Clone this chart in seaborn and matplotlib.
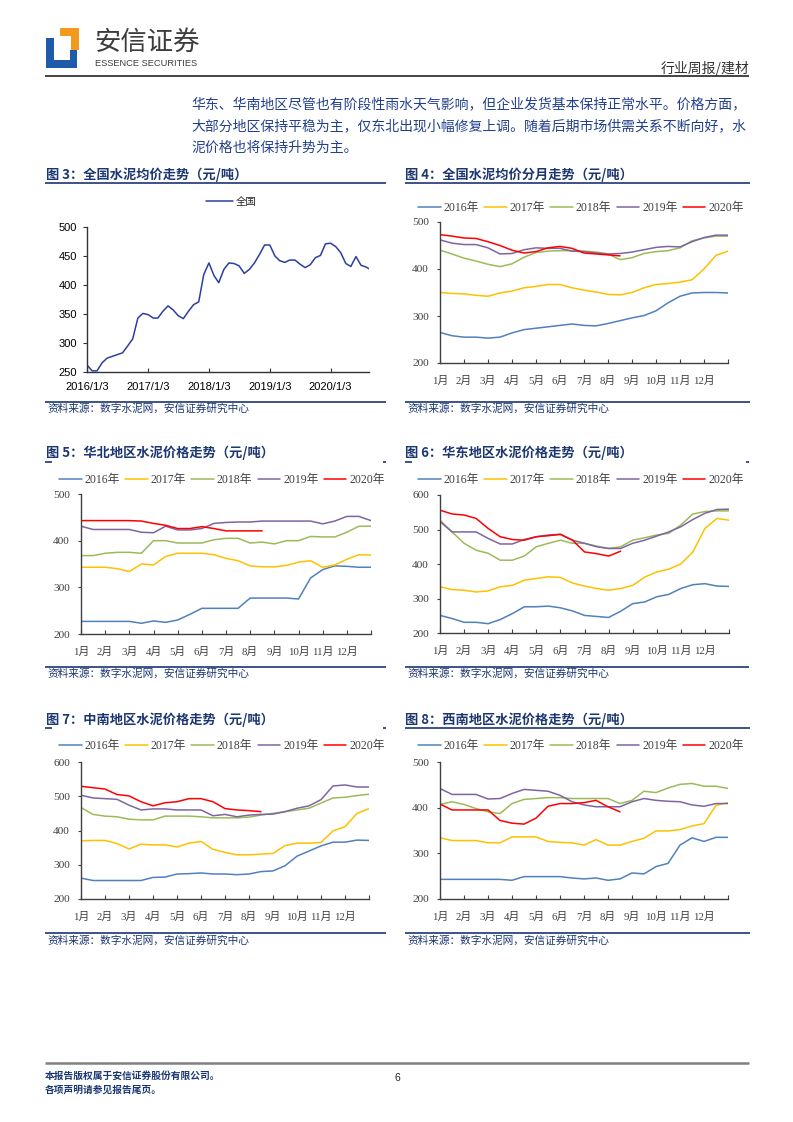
import numpy as np
import pandas as pd
import matplotlib
matplotlib.use("Agg")
import matplotlib.pyplot as plt
import seaborn as sns
from matplotlib.lines import Line2D
from matplotlib.patches import Polygon
from matplotlib.font_manager import FontProperties

sns.set_theme(style="white")
plt.rcParams["font.family"] = ["Noto Sans CJK SC", "DejaVu Sans"]
plt.rcParams["axes.unicode_minus"] = False

# ---------------- data ----------------
national_price = [262, 252, 252, 266, 274, 277, 280, 283, 295, 307, 343, 351,
                  349, 343, 343, 355, 364, 357, 347, 342, 355, 366, 371, 418,
                  438, 416, 404, 427, 438, 437, 433, 420, 427, 438, 453, 469,
                  469, 450, 442, 439, 443, 443, 436, 430, 435, 447, 451, 471,
                  472, 466, 456, 437, 432, 449, 434, 431, 428]
national_ticks = ["2016/1/3", "2017/1/3", "2018/1/3", "2019/1/3", "2020/1/3"]
national_yticks = [250, 300, 350, 400, 450, 500]

years = ["2016年", "2017年", "2018年", "2019年", "2020年"]
month_labels = ["1月", "2月", "3月", "4月", "5月", "6月", "7月", "8月", "9月",
                "10月", "11月", "12月", ""]

# 图4 全国分月
nat_2016 = [265, 258, 255, 255, 253, 255, 264, 271, 274, 277, 280, 283, 280, 279, 284, 290, 296, 301, 311, 328, 342, 349, 350, 350, 349]
nat_2017 = [350, 348, 347, 344, 342, 349, 353, 360, 363, 367, 367, 360, 355, 351, 346, 345, 350, 360, 367, 369, 372, 377, 400, 429, 438]
nat_2018 = [440, 432, 423, 417, 410, 405, 411, 425, 435, 438, 439, 439, 438, 436, 432, 420, 424, 433, 437, 439, 445, 460, 466, 470, 470]
nat_2019 = [462, 455, 452, 452, 445, 432, 433, 441, 445, 444, 444, 438, 437, 434, 432, 433, 436, 441, 446, 448, 447, 458, 467, 472, 472]
nat_2020 = [473, 470, 466, 465, 458, 450, 440, 434, 437, 445, 448, 444, 434, 432, 430, 428]

# 图5 华北
hb_2016 = [227, 227, 227, 227, 227, 223, 228, 225, 230, 242, 255, 255, 255, 255, 277, 277, 277, 277, 275, 320, 338, 346, 345, 343, 343]
hb_2017 = [343, 343, 343, 340, 334, 350, 348, 366, 373, 373, 373, 370, 362, 357, 346, 344, 344, 347, 354, 357, 343, 348, 360, 370, 369]
hb_2018 = [368, 368, 373, 375, 375, 373, 400, 400, 395, 395, 395, 402, 405, 405, 395, 397, 393, 400, 400, 409, 408, 408, 418, 431, 431]
hb_2019 = [431, 424, 424, 424, 424, 418, 417, 431, 423, 423, 426, 437, 439, 440, 440, 442, 442, 442, 442, 442, 436, 442, 452, 452, 443]
hb_2020 = [443, 443, 443, 443, 443, 442, 437, 433, 426, 426, 430, 426, 421, 421, 421, 421]

# 图6 华东
hd_2016 = [251, 242, 231, 231, 227, 239, 256, 276, 276, 278, 273, 264, 251, 248, 245, 263, 285, 290, 305, 312, 329, 340, 343, 336, 335]
hd_2017 = [334, 326, 324, 319, 322, 334, 338, 353, 358, 363, 361, 345, 336, 329, 324, 329, 338, 362, 377, 385, 400, 435, 503, 532, 527]
hd_2018 = [527, 493, 460, 440, 431, 411, 411, 423, 450, 460, 469, 460, 460, 452, 445, 450, 469, 476, 484, 489, 513, 545, 552, 554, 554]
hd_2019 = [523, 493, 493, 493, 474, 458, 458, 471, 479, 484, 486, 469, 460, 450, 445, 445, 460, 469, 481, 493, 508, 529, 547, 558, 559]
hd_2020 = [556, 545, 542, 532, 503, 479, 471, 469, 479, 482, 486, 469, 435, 430, 423, 437]

# 图7 中南
zn_2016 = [261, 254, 254, 254, 254, 254, 263, 264, 273, 274, 276, 273, 273, 271, 273, 280, 282, 297, 325, 340, 355, 366, 366, 372, 371]
zn_2017 = [370, 371, 371, 362, 346, 360, 358, 358, 352, 363, 368, 345, 336, 329, 329, 331, 333, 356, 363, 363, 365, 399, 411, 450, 464]
zn_2018 = [467, 447, 442, 440, 433, 431, 431, 442, 442, 442, 440, 437, 437, 437, 439, 445, 450, 455, 460, 465, 480, 495, 497, 502, 506]
zn_2019 = [503, 495, 493, 491, 474, 460, 463, 463, 460, 460, 460, 443, 447, 440, 445, 447, 448, 455, 465, 472, 490, 530, 533, 527, 527]
zn_2020 = [529, 525, 521, 505, 501, 484, 472, 481, 484, 493, 493, 484, 464, 460, 458, 455]

# 图8 西南
xn_2016 = [243, 243, 243, 243, 243, 243, 241, 249, 249, 249, 249, 246, 244, 246, 241, 244, 257, 255, 271, 278, 318, 334, 326, 335, 335]
xn_2017 = [334, 328, 328, 328, 323, 323, 336, 336, 336, 326, 324, 323, 318, 330, 318, 318, 326, 333, 349, 349, 352, 360, 365, 405, 411]
xn_2018 = [407, 413, 407, 398, 391, 387, 409, 418, 420, 422, 422, 420, 420, 420, 420, 409, 416, 436, 433, 443, 451, 453, 447, 447, 442]
xn_2019 = [442, 429, 429, 429, 419, 420, 431, 440, 438, 436, 427, 413, 406, 402, 402, 402, 413, 420, 416, 414, 413, 406, 403, 409, 409]
xn_2020 = [408, 395, 395, 395, 395, 372, 366, 364, 377, 403, 409, 409, 411, 416, 402, 391]

# ---------------- styling ----------------
W, H = 793, 1122
NAVY = "#1B3670"
BODY = "#22408C"
YEAR_COLORS = ["#4F81BD", "#FFC000", "#9BBB59", "#8064A2", "#FF0000"]
SERIF = ["Liberation Serif", "Noto Sans CJK SC"]
AXC = "#404040"

fig = plt.figure(figsize=(W / 100, H / 100), dpi=100)


def fx(x):
    return x / W


def fy(y):
    return 1 - y / H


def hline(x0, x1, y, color, lw):
    fig.add_artist(Line2D([fx(x0), fx(x1)], [fy(y), fy(y)], transform=fig.transFigure,
                          color=color, lw=lw, solid_capstyle="butt"))


def txt(x, y, s, **kw):
    kw.setdefault("va", "center")
    fig.text(fx(x), fy(y), s, **kw)


def axes_px(l, t, r, b):
    return fig.add_axes([fx(l), fy(b), (r - l) / W, (b - t) / H])


def monthly_chart(box, series, ylim, yticks, legend_xy):
    ax = axes_px(*box)
    frames = []
    for yr, vals in zip(years, series):
        frames.append(pd.DataFrame({"月份": np.arange(len(vals)) * 0.5, "价格": vals, "年份": yr}))
    df = pd.concat(frames, ignore_index=True)
    sns.lineplot(data=df, x="月份", y="价格", hue="年份", hue_order=years,
                 palette=YEAR_COLORS, linewidth=1.1, ax=ax, legend=False,
                 estimator=None, sort=False)
    ax.set_xlim(0, 12)
    ax.set_ylim(*ylim)
    ax.set_xticks(range(13))
    ax.set_xticklabels(month_labels)
    ax.set_yticks(yticks)
    ax.set_xlabel("")
    ax.set_ylabel("")
    for s in ["top", "right"]:
        ax.spines[s].set_visible(False)
    for s in ["left", "bottom"]:
        ax.spines[s].set_color(AXC)
        ax.spines[s].set_linewidth(1.0)
    ax.tick_params(axis="x", direction="in", length=3, width=0.8, color=AXC, pad=9,
                   labelsize=7.8, labelcolor=AXC, bottom=True)
    ax.tick_params(axis="y", direction="out", length=2, width=0.8, color=AXC, pad=6,
                   labelsize=8.2, labelcolor=AXC, left=True)
    for lab in ax.get_xticklabels() + ax.get_yticklabels():
        lab.set_fontfamily(SERIF)
    handles = [Line2D([], [], color=c, lw=1.1) for c in YEAR_COLORS]
    ax.legend(handles, years, ncol=5, loc="center",
              bbox_to_anchor=(fx(legend_xy[0]), fy(legend_xy[1])),
              bbox_transform=fig.transFigure, frameon=False,
              prop=FontProperties(family=SERIF, size=8.5), handlelength=1.9,
              handletextpad=0.25, columnspacing=0.45, labelcolor=AXC,
              borderaxespad=0, borderpad=0)
    return ax


# ---------------- header ----------------
fig.add_artist(Polygon([(fx(46), fy(38)), (fx(54), fy(38)), (fx(54), fy(60)), (fx(70), fy(60)),
                        (fx(70), fy(50)), (fx(77), fy(50)), (fx(77), fy(68)), (fx(46), fy(68))],
                       closed=True, transform=fig.transFigure, color="#1F5BA8", lw=0))
fig.add_artist(Polygon([(fx(60), fy(28)), (fx(79), fy(28)), (fx(79), fy(50)), (fx(71), fy(50)),
                        (fx(71), fy(36)), (fx(60), fy(36))],
                       closed=True, transform=fig.transFigure, color="#F39A1E", lw=0))
txt(94, 42, "安信证券", fontsize=19, color="#3C3C3C")
txt(95, 64, "ESSENCE SECURITIES", fontsize=6.7, color="#3C3C3C",
    family=["Liberation Sans Narrow", "Liberation Sans", "DejaVu Sans"])
txt(749, 68, "行业周报/建材", fontsize=10, color="#333333", ha="right")
hline(45, 749, 76, "#222222", 1.2)

body_lines = ["华东、华南地区尽管也有阶段性雨水天气影响，但企业发货基本保持正常水平。价格方面，",
              "大部分地区保持平稳为主，仅东北出现小幅修复上调。随着后期市场供需关系不断向好，水",
              "泥价格也将保持升势为主。"]
for i, line in enumerate(body_lines):
    txt(191, 104 + i * 22, line, fontsize=10, color=BODY)

titles = ["图 3：全国水泥均价走势（元/吨）", "图 4：全国水泥均价分月走势（元/吨）",
          "图 5：华北地区水泥价格走势（元/吨）", "图 6：华东地区水泥价格走势（元/吨）",
          "图 7：中南地区水泥价格走势（元/吨）", "图 8：西南地区水泥价格走势（元/吨）"]
source = "资料来源：数字水泥网，安信证券研究中心"

# titles, rules, sources
title_pos = [(46, 175, 183, 45, 386, "full"), (405, 175, 183, 405, 750, "full"),
             (46, 453, 462, 45, 386, "stub"), (405, 453, 462, 405, 749, "stub"),
             (46, 720, 728, 45, 386, "stub"), (405, 720, 728, 405, 750, "full")]
for t, (x, yt, yr, r0, r1, kind) in zip(titles, title_pos):
    txt(x, yt, t, fontsize=9.5, fontweight="bold", color=NAVY)
    if kind == "full":
        hline(r0, r1, yr, NAVY, 1.2)
    else:
        hline(r0, r0 + 7, yr, NAVY, 1.2)
        hline(r1 - 3, r1, yr, NAVY, 1.2)

src_pos = [(45, 386, 402, 409), (405, 750, 402, 409),
           (45, 386, 667, 674), (405, 749, 667, 674),
           (45, 386, 933, 941), (405, 750, 933, 941)]
for r0, r1, yl, ys in src_pos:
    hline(r0, r1, yl, NAVY, 1.2)
    txt(r0 + 2, ys, source, fontsize=7.7, color=NAVY, style="italic")

# ---------------- chart 3 ----------------
ax3 = axes_px(87, 227, 369, 372)
dates = list(pd.date_range("2016-01-01", periods=56, freq="MS") + pd.Timedelta(days=2)) + [pd.Timestamp("2020-08-20")]
df3 = pd.DataFrame({"日期": dates, "价格": national_price})
sns.lineplot(data=df3, x="日期", y="价格", color="#2B3FA0", linewidth=1.1, ax=ax3)
ax3.set_xlim(pd.Timestamp("2016-01-03"), pd.Timestamp("2020-08-20"))
ax3.set_ylim(250, 500)
ax3.set_yticks(national_yticks)
ax3.set_xticks(pd.to_datetime(["2016-01-03", "2017-01-03", "2018-01-03", "2019-01-03", "2020-01-03"]))
ax3.set_xticklabels(national_ticks)
ax3.set_xlabel("")
ax3.set_ylabel("")
for s in ["top", "right"]:
    ax3.spines[s].set_visible(False)
for s in ["left", "bottom"]:
    ax3.spines[s].set_color("#333333")
    ax3.spines[s].set_linewidth(1.0)
ax3.tick_params(axis="x", direction="in", length=3, width=0.8, color="#333333", pad=7.5,
                labelsize=8, labelcolor="black", bottom=True)
ax3.tick_params(axis="y", direction="out", length=3, width=0.8, color="#333333", pad=4,
                labelsize=8, labelcolor="black", left=True)
for lab in ax3.get_xticklabels() + ax3.get_yticklabels():
    lab.set_fontfamily(["Liberation Sans", "DejaVu Sans"])
ax3.legend([Line2D([], [], color="#2B3FA0", lw=1.1)], ["全国"], loc="center",
           bbox_to_anchor=(fx(231), fy(202)), bbox_transform=fig.transFigure,
           frameon=False, fontsize=7.5, handlelength=2.6, handletextpad=0.3,
           borderaxespad=0, borderpad=0)

# ---------------- charts 4-8 ----------------
monthly_chart((440, 222, 728, 363), [nat_2016, nat_2017, nat_2018, nat_2019, nat_2020],
              (200, 500), [200, 300, 400, 500], (581, 208))
monthly_chart((81, 494, 371, 634), [hb_2016, hb_2017, hb_2018, hb_2019, hb_2020],
              (200, 500), [200, 300, 400, 500], (222, 480))
monthly_chart((440, 495, 729, 633), [hd_2016, hd_2017, hd_2018, hd_2019, hd_2020],
              (200, 600), [200, 300, 400, 500, 600], (581, 480))
monthly_chart((81, 762, 369, 899), [zn_2016, zn_2017, zn_2018, zn_2019, zn_2020],
              (200, 600), [200, 300, 400, 500, 600], (222, 746))
monthly_chart((440, 762, 728, 899), [xn_2016, xn_2017, xn_2018, xn_2019, xn_2020],
              (200, 500), [200, 300, 400, 500], (581, 746))

# ---------------- footer ----------------
hline(45, 749, 1063, "#808080", 1.8)
txt(45, 1076, "本报告版权属于安信证券股份有限公司。", fontsize=7, fontweight="bold", color=NAVY)
txt(45, 1090, "各项声明请参见报告尾页。", fontsize=7, fontweight="bold", color=NAVY)
txt(397, 1078, "6", fontsize=7.5, color="#222222", ha="center",
    family=["Liberation Sans", "DejaVu Sans"])

fig.savefig("out.png", dpi=100, facecolor="white")
